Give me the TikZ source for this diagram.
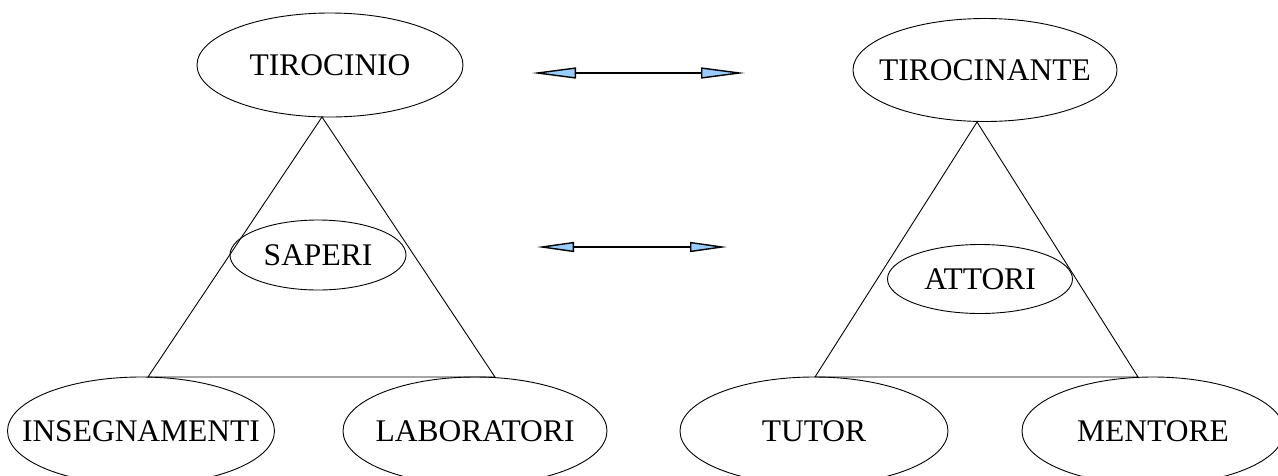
\documentclass[tikz,border=0pt]{standalone}
\usepackage{fontspec}
\setmainfont{Liberation Serif}
\usetikzlibrary{shapes.geometric,arrows.meta}
\definecolor{arrowblue}{HTML}{99CCFF}
\newcommand{\zw}[1]{\makebox[0pt]{#1}}
\begin{document}
\begin{tikzpicture}[x=1pt,y=-1pt,
  oval/.style={ellipse,draw,line width=0.9pt,inner sep=0pt,font=\fontsize{31.5}{36}\selectfont},
  edge/.style={line width=0.9pt},
  dbl/.style={line width=1.4pt,{Triangle[length=44pt,width=11pt,fill=arrowblue]}-{Triangle[length=44pt,width=11pt,fill=arrowblue]}},
  dbls/.style={line width=1.4pt,{Triangle[length=37pt,width=10pt,fill=arrowblue]}-{Triangle[length=37pt,width=10pt,fill=arrowblue]}}]
\path[use as bounding box] (0,0) rectangle (1278,475);
\clip (0,0) rectangle (1278,475);
% nodes
\node[oval,minimum width=266pt,minimum height=104pt] (tirocinio) at (330,65) {\zw{TIROCINIO}};
\node[oval,minimum width=176pt,minimum height=70pt] (saperi) at (318,255) {\zw{SAPERI}};
\node[oval,minimum width=267pt,minimum height=108pt] (insegn) at (141,431) {\zw{INSEGNAMENTI}};
\node[oval,minimum width=264pt,minimum height=108pt] (lab) at (475,431) {\zw{LABORATORI}};
\node[oval,minimum width=264pt,minimum height=103pt] (tirocinante) at (985,70) {\zw{TIROCINANTE}};
\node[oval,minimum width=185pt,minimum height=69pt] (attori) at (980,279) {\zw{ATTORI}};
\node[oval,minimum width=268pt,minimum height=108pt] (tutor) at (814,431) {\zw{TUTOR}};
\node[oval,minimum width=262pt,minimum height=108pt] (mentore) at (1153,431) {\zw{MENTORE}};
% triangle vertices
\coordinate (la) at (322,117);
\coordinate (lb) at (148,377);
\coordinate (lc) at (495,377);
\coordinate (ra) at (977,122);
\coordinate (rb) at (815,377);
\coordinate (rc) at (1138,377);
\draw[edge] (la) -- (lb) -- (lc) -- cycle;
\draw[edge] (ra) -- (rb) -- (rc) -- cycle;
% arrows
\coordinate (a1l) at (532,73);
\coordinate (a1r) at (745,73);
\coordinate (a2l) at (537,247);
\coordinate (a2r) at (727,247);
\draw[dbl] (a1l) -- (a1r);
\draw[dbls] (a2l) -- (a2r);
\end{tikzpicture}
\end{document}
